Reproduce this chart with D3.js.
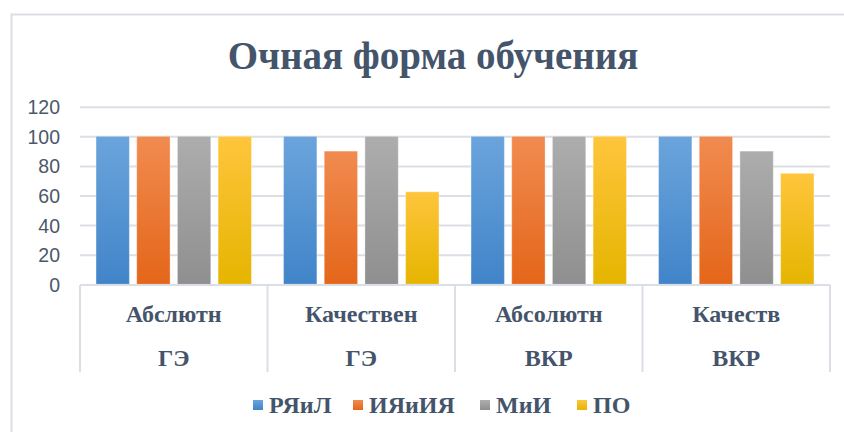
<!DOCTYPE html>
<html><head><meta charset="utf-8">
<script src="https://cdn.jsdelivr.net/npm/d3@7"></script>
<style>html,body{margin:0;padding:0;background:#fff;}svg{display:block;}
.serif{font-family:'Liberation Serif','Times New Roman','DejaVu Serif',serif;font-weight:bold;}
</style>
</head><body>
<svg id="c" width="844" height="432"></svg>
<script>
const title = "Очная форма обучения";
const categoriesTop = ["Абслютн", "Качествен", "Абсолютн", "Качеств"];
const categoriesBottom = ["ГЭ", "ГЭ", "ВКР", "ВКР"];
const seriesNames = ["РЯиЛ", "ИЯиИЯ", "МиИ", "ПО"];
const valuesRYaiL = [100, 100, 100, 100];
const valuesIYaiIYa = [100, 90, 100, 100];
const valuesMiI = [100, 100, 100, 90];
const valuesPO = [100, 62.5, 100, 75];
const yTicks = [0, 20, 40, 60, 80, 100, 120];

const seriesValues = [valuesRYaiL, valuesIYaiIYa, valuesMiI, valuesPO];
const colorsTop = ["#6ba4dc", "#f18b50", "#adadad", "#ffc53c"];
const colorsBot = ["#4184c9", "#e4661a", "#8f8f8f", "#e5b500"];
const textColor = "#44546a";

const svg = d3.select("#c");
const defs = svg.append("defs");
seriesNames.forEach((s, i) => {
  const g = defs.append("linearGradient").attr("id", "g" + i)
    .attr("x1", 0).attr("y1", 0).attr("x2", 0).attr("y2", 1);
  g.append("stop").attr("offset", "0%").attr("stop-color", colorsTop[i]);
  g.append("stop").attr("offset", "100%").attr("stop-color", colorsBot[i]);
});

// frame
svg.append("path").attr("d", "M11.5,432 L11.5,14.5 L844,14.5")
  .attr("fill", "none").attr("stroke", "#dadee5").attr("stroke-width", 2);

// title
svg.append("text").attr("class", "serif").attr("x", 433).attr("y", 69).attr("text-anchor", "middle")
  .attr("font-size", 39).attr("fill", textColor).text(title);

const x0 = d3.scaleBand().domain(d3.range(categoriesTop.length)).range([80, 830]).paddingInner(0).paddingOuter(0);
const x1 = d3.scaleBand().domain(d3.range(seriesNames.length)).range([0, x0.bandwidth()]).paddingInner(0.18).paddingOuter(0.394);
const y = d3.scaleLinear().domain([0, 120]).range([284.3, 106.7]);

// gridlines
const yAxis = d3.axisLeft(y).tickValues(yTicks).tickSize(-750).tickPadding(20);
const gy = svg.append("g").attr("transform", "translate(80,0)").call(yAxis);
gy.select(".domain").remove();
gy.selectAll(".tick line").attr("stroke", "#dadee5").attr("stroke-width", 2);
gy.selectAll(".tick text").attr("font-family", "'Liberation Sans', Arial, sans-serif").attr("font-size", 19.5)
  .attr("fill", "#4d586a").attr("x", -20).attr("dy", "0.36em");
gy.selectAll(".tick").filter(d => d === 0).select("line").remove();

// bars
const groups = svg.append("g").selectAll("g").data(categoriesTop).join("g")
  .attr("transform", (d, i) => `translate(${x0(i)},0)`);
groups.selectAll("rect").data((d, ci) => seriesValues.map((v, si) => ({si, v: v[ci]})))
  .join("rect")
  .attr("x", d => x1(d.si)).attr("width", x1.bandwidth())
  .attr("y", d => y(d.v)).attr("height", d => y(0) - y(d.v))
  .attr("fill", d => `url(#g${d.si})`)
  .attr("stroke", "rgba(255,255,255,0.35)").attr("stroke-width", 1);

// category axis
const ax = svg.append("g");
ax.append("line").attr("x1", 80).attr("x2", 830).attr("y1", 285).attr("y2", 285)
  .attr("stroke", "#dadee5").attr("stroke-width", 2);
const seps = d3.range(categoriesTop.length + 1).map(i => i < categoriesTop.length ? x0(i) : x0.range()[1]);
ax.selectAll("line.sep").data(seps).join("line").attr("class", "sep")
  .attr("x1", d => d).attr("x2", d => d).attr("y1", 285).attr("y2", 372)
  .attr("stroke", "#dadee5").attr("stroke-width", 2);
ax.selectAll("text.top").data(categoriesTop).join("text").attr("class", "top serif")
  .attr("x", (d, i) => x0(i) + x0.bandwidth() / 2).attr("y", 322)
  .attr("text-anchor", "middle")
  .attr("font-size", 24).attr("fill", textColor).text(d => d);
ax.selectAll("text.bot").data(categoriesBottom).join("text").attr("class", "bot serif")
  .attr("x", (d, i) => x0(i) + x0.bandwidth() / 2).attr("y", 366)
  .attr("text-anchor", "middle")
  .attr("font-size", 24).attr("fill", textColor).text(d => d);

// legend
const legendX = [253, 353, 480, 577];
const lg = svg.append("g").selectAll("g").data(seriesNames).join("g")
  .attr("transform", (d, i) => `translate(${legendX[i]},0)`);
lg.append("rect").attr("x", 0).attr("y", 400).attr("width", 10).attr("height", 10)
  .attr("fill", (d, i) => `url(#g${i})`);
lg.append("text").attr("class", "serif").attr("x", 16).attr("y", 413)
  .attr("font-size", 24).attr("fill", textColor).text(d => d);
</script>
</body></html>
